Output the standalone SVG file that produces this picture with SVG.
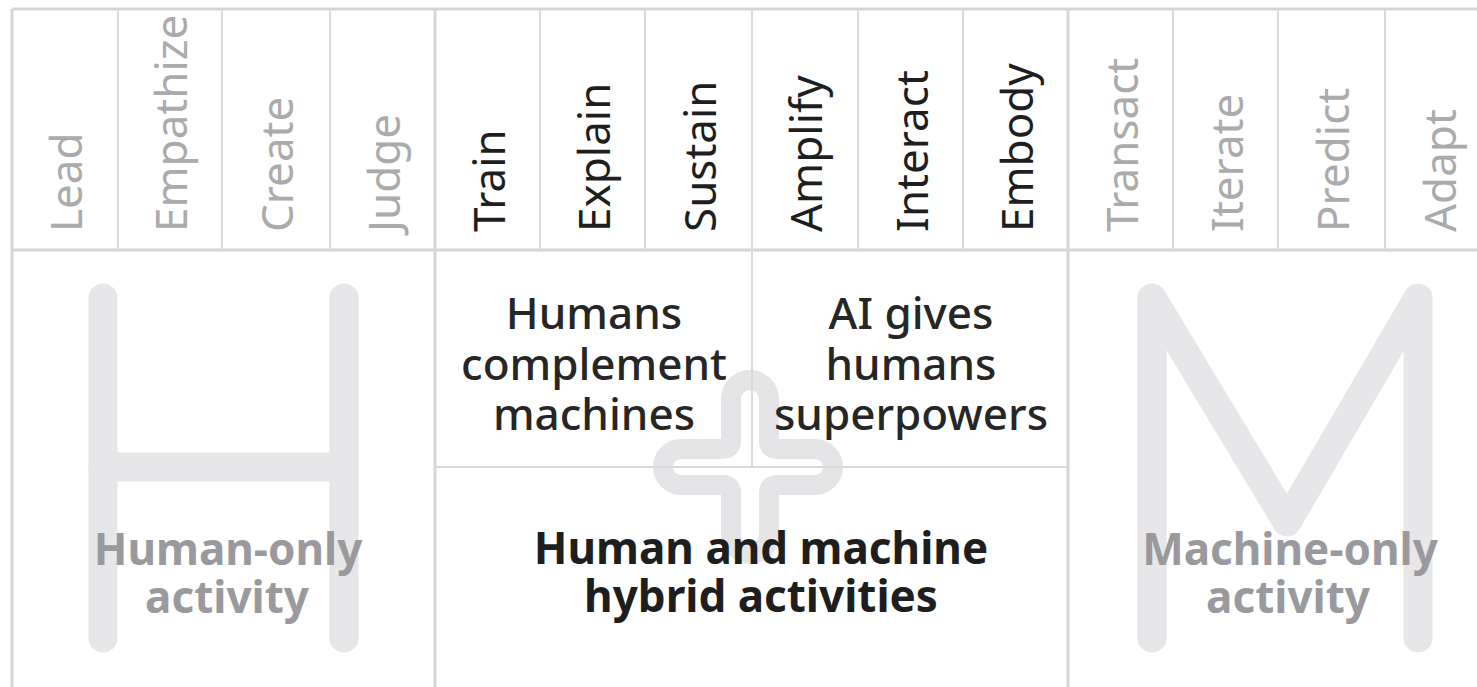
<svg xmlns="http://www.w3.org/2000/svg" width="1477" height="687" viewBox="0 0 1477 687">
  <style>
    .bg { fill: #ffffff; }
    .glyph { fill: none; stroke: #e7e7e9; stroke-width: 29; stroke-linecap: round; stroke-linejoin: round; }
    .plus { fill: none; stroke: #e5e5e7; stroke-width: 20; stroke-linejoin: round; }
    .grid { stroke: #dadada; stroke-width: 2; fill: none; }
    .gridMain { stroke: #d6d6d6; stroke-width: 3; fill: none; }
    .hdr { font-family: "Noto Sans", "Open Sans", sans-serif; font-size: 44px; font-weight: 400; }
    .hdrGrey { fill: #ababab; }
    .hdrDark { fill: #1e1e1e; }
    .mid { font-family: "Noto Sans", "Open Sans", sans-serif; font-size: 44px; font-weight: 500; fill: #262626; text-anchor: middle; }
    .big { font-family: "Noto Sans", "Open Sans", sans-serif; font-size: 44px; font-weight: 700; text-anchor: middle; }
    .bigDark { fill: #1e1e1e; }
    .bigGrey { fill: #9a9a9e; }
  </style>

  <rect class="bg" x="0" y="0" width="1477" height="687"/>

  <g id="background-glyphs">
    <g id="glyph-H">
      <line class="glyph" x1="103" y1="298" x2="103" y2="638"/>
      <line class="glyph" x1="344" y1="298" x2="344" y2="638"/>
      <line class="glyph" x1="103" y1="467" x2="344" y2="467" stroke-linecap="butt"/>
    </g>
    <g id="glyph-M">
      <path class="glyph" d="M1152,638 L1152,298 L1287,522 L1418,298 L1418,638"/>
    </g>
    <g id="glyph-plus">
      <path class="plus" d="M731,399 A19,19 0 0 1 769,399 L769,441 Q769,449 777,449 L815,449 A18,18 0 0 1 815,485 L777,485 Q769,485 769,493 L769,535 A19,19 0 0 1 731,535 L731,493 Q731,485 723,485 L681,485 A18,18 0 0 1 681,449 L723,449 Q731,449 731,441 Z"/>
    </g>
  </g>

  <g id="connectors">
    <line class="gridMain" x1="12" y1="9" x2="1477" y2="9"/>
    <line class="gridMain" x1="12" y1="9" x2="12" y2="687"/>
    <line class="gridMain" x1="12" y1="250" x2="1477" y2="250"/>
    <line class="gridMain" x1="435" y1="9" x2="435" y2="687"/>
    <line class="gridMain" x1="1068" y1="9" x2="1068" y2="687"/>
    <line class="grid" x1="118" y1="9" x2="118" y2="250"/>
    <line class="grid" x1="222" y1="9" x2="222" y2="250"/>
    <line class="grid" x1="330" y1="9" x2="330" y2="250"/>
    <line class="grid" x1="540" y1="9" x2="540" y2="250"/>
    <line class="grid" x1="645" y1="9" x2="645" y2="250"/>
    <line class="grid" x1="752" y1="9" x2="752" y2="250"/>
    <line class="grid" x1="858" y1="9" x2="858" y2="250"/>
    <line class="grid" x1="963" y1="9" x2="963" y2="250"/>
    <line class="grid" x1="1173" y1="9" x2="1173" y2="250"/>
    <line class="grid" x1="1278" y1="9" x2="1278" y2="250"/>
    <line class="grid" x1="1385" y1="9" x2="1385" y2="250"/>
    <line class="grid" x1="752" y1="250" x2="752" y2="467"/>
    <line class="grid" x1="435" y1="467" x2="1068" y2="467"/>
  </g>

  <g id="headers" class="hdr">
    <g id="h-lead"><text class="hdrGrey" transform="translate(82,232) rotate(-90)">Lead</text></g>
    <g id="h-empathize"><text class="hdrGrey" transform="translate(187,232) rotate(-90)">Empathize</text></g>
    <g id="h-create"><text class="hdrGrey" transform="translate(293,232) rotate(-90)">Create</text></g>
    <g id="h-judge"><text class="hdrGrey" transform="translate(400,232) rotate(-90)">Judge</text></g>
    <g id="h-train"><text class="hdrDark" transform="translate(505,232) rotate(-90)">Train</text></g>
    <g id="h-explain"><text class="hdrDark" transform="translate(610,232) rotate(-90)">Explain</text></g>
    <g id="h-sustain"><text class="hdrDark" transform="translate(716,232) rotate(-90)">Sustain</text></g>
    <g id="h-amplify"><text class="hdrDark" transform="translate(822,232) rotate(-90)">Amplify</text></g>
    <g id="h-interact"><text class="hdrDark" transform="translate(928,232) rotate(-90)">Interact</text></g>
    <g id="h-embody"><text class="hdrDark" transform="translate(1033,232) rotate(-90)">Embody</text></g>
    <g id="h-transact"><text class="hdrGrey" transform="translate(1138,232) rotate(-90)">Transact</text></g>
    <g id="h-iterate"><text class="hdrGrey" transform="translate(1243,232) rotate(-90)">Iterate</text></g>
    <g id="h-predict"><text class="hdrGrey" transform="translate(1349,232) rotate(-90)">Predict</text></g>
    <g id="h-adapt"><text class="hdrGrey" transform="translate(1456,232) rotate(-90)">Adapt</text></g>
  </g>

  <g id="node-human-only">
    <text class="big bigGrey" x="228" y="565">Human-only</text>
    <text class="big bigGrey" x="227" y="613">activity</text>
  </g>

  <g id="node-humans-complement">
    <text class="mid" x="594" y="329">Humans</text>
    <text class="mid" x="594" y="380">complement</text>
    <text class="mid" x="594" y="430">machines</text>
  </g>

  <g id="node-ai-superpowers">
    <text class="mid" x="911" y="329">AI gives</text>
    <text class="mid" x="911" y="380">humans</text>
    <text class="mid" x="911" y="430">superpowers</text>
  </g>

  <g id="node-hybrid">
    <text class="big bigDark" x="761" y="564">Human and machine</text>
    <text class="big bigDark" x="761" y="612">hybrid activities</text>
  </g>

  <g id="node-machine-only">
    <text class="big bigGrey" x="1290" y="565">Machine-only</text>
    <text class="big bigGrey" x="1288" y="613">activity</text>
  </g>
</svg>
